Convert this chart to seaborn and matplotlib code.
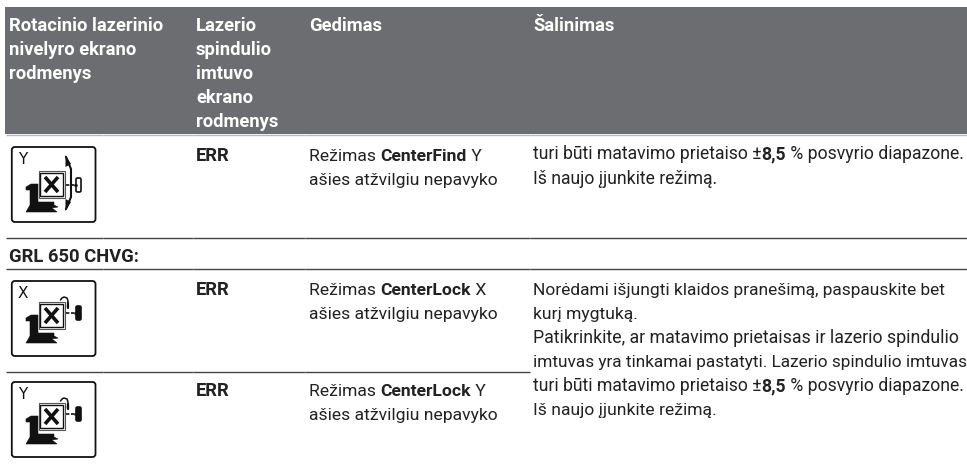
import matplotlib
matplotlib.use("Agg")
import matplotlib.pyplot as plt
from matplotlib.patches import FancyBboxPatch, Rectangle, Polygon
import seaborn as sns

sns.set_theme(style="white")
FAM = ["Roboto", "DejaVu Sans"]

W, H = 967, 466
HEADER_COLOR = "#6c6d70"
TEXT_COLOR = "#222222"

col_x = [9, 196, 309, 533]
col_edges = [5, 102.5, 192.5, 304.5, 529.5, 967]
header_labels = [
    ["Rotacinio lazerinio", "nivelyro ekrano", "rodmenys"],
    ["Lazerio", "spindulio", "imtuvo", "ekrano", "rodmenys"],
    ["Gedimas"],
    ["Šalinimas"],
]
group_label = "GRL 650 CHVG:"
code_label = "ERR"
row_tops = [147, 281, 382]
content_shift = [3, 0, 0]
fault_rows = [
    [[("Režimas ", False), ("CenterFind", True), (" Y", False)], [("ašies atžvilgiu nepavyko", False)]],
    [[("Režimas ", False), ("CenterLock", True), (" X", False)], [("ašies atžvilgiu nepavyko", False)]],
    [[("Režimas ", False), ("CenterLock", True), (" Y", False)], [("ašies atžvilgiu nepavyko", False)]],
]
fix_top = [
    [("turi būti matavimo prietaiso ±", False), ("8,5", True), (" % posvyrio diapazone.", False)],
    [("Iš naujo įjunkite režimą.", False)],
]
fix_bottom = [
    [("Norėdami išjungti klaidos pranešimą, paspauskite bet", False)],
    [("kurį mygtuką.", False)],
    [("Patikrinkite, ar matavimo prietaisas ir lazerio spindulio", False)],
    [("imtuvas yra tinkamai pastatyti. Lazerio spindulio imtuvas", False)],
    [("turi būti matavimo prietaiso ±", False), ("8,5", True), (" % posvyrio diapazone.", False)],
    [("Iš naujo įjunkite režimą.", False)],
]
full_rules = [238, 269]
partial_rules = [372]
icon_letters = ["Y", "X", "Y"]
icon_kind = ["find", "lock", "lock"]

FS = 12.6
HFS = 13.2
fix_bottom_sizes = [12.5, 12.6, 12.75, 12.4, 12.7, 12.6]
fig = plt.figure(figsize=(W / 100, H / 100), dpi=100)
ax = fig.add_axes([0, 0, 1, 1])
ax.set_xlim(0, W)
ax.set_ylim(H, 0)
ax.axis("off")
sns.despine(ax=ax, left=True, bottom=True)

ax.add_patch(Rectangle((5, 7), 962, 127, color=HEADER_COLOR, lw=0))


def rule(y, edges, color="#444444", lw=1.0):
    for a, b in zip(edges[:-1], edges[1:]):
        ax.plot([a + 0.5, b], [y, y], color=color, lw=lw, solid_capstyle="butt")


rule(134.5, col_edges, color="#b8b8ba", lw=1.0)
for y in full_rules:
    rule(y, col_edges)
for y in partial_rules:
    rule(y, col_edges[:-1])

r = fig.canvas.get_renderer()


def runs(x, y, parts, color=TEXT_COLOR, size=FS):
    for s, b in parts:
        t = ax.text(x, y, s.replace(" ", "\u00a0"), family=FAM, fontsize=size,
                    weight="bold" if b else "normal", color=color,
                    va="baseline", ha="left")
        x += t.get_window_extent(r).width


for cx, lines in zip(col_x, header_labels):
    for i, line in enumerate(lines):
        runs(cx, 31 + i * 24, [(line, True)], color="white", size=HFS)

runs(9, 262, [(group_label, True)], size=HFS)
for top, lines in zip(row_tops, fault_rows):
    runs(196, top + 14, [(code_label, True)], size=HFS)
    runs(309, top + 14, lines[0])
    runs(309, top + 38, lines[1])
for i, parts in enumerate(fix_top):
    runs(533, 159 + i * 25, parts, size=12.7)
for i, (parts, size) in enumerate(zip(fix_bottom, fix_bottom_sizes)):
    runs(533, 295 + i * 24, parts, size=size)

INK = "#111111"


def icon(top, letter, kind, shift):
    ax.add_patch(FancyBboxPatch((11.8, top), 83.7, 75, boxstyle="round,pad=0,rounding_size=3",
                                fc="white", ec=INK, lw=1.3))
    ax.text(18, top + 17, letter, family="DejaVu Sans", fontsize=11, color=INK)
    c = top + shift
    # laser body
    ax.add_patch(Polygon([(26, c + 37), (31, c + 34), (38, c + 34), (38, c + 52), (54, c + 52),
                          (54, c + 55), (58, c + 57), (52, c + 58), (57, c + 62), (26, c + 62),
                          (30, c + 55), (30, c + 40), (26, c + 40)],
                         fc=INK, ec=INK, lw=0.4))
    # display frames
    ax.add_patch(Rectangle((38.5, c + 21), 26, 27, fc="white", ec="#555555", lw=0.8))
    ax.add_patch(Rectangle((40, c + 22.5), 23, 23, fc="white", ec=INK, lw=1.0))
    ax.plot([45, 58], [c + 27, c + 42], color=INK, lw=2.6, solid_capstyle="butt")
    ax.plot([45, 58], [c + 42, c + 27], color=INK, lw=2.6, solid_capstyle="butt")
    ym = c + 32 + (3 if kind == "find" else 0)
    ax.plot([66, 75], [ym, ym], color=INK, lw=1.2, ls=(0, (2, 1)))
    ax.add_patch(FancyBboxPatch((76, ym - 7), 5, 14, boxstyle="round,pad=0,rounding_size=1.5",
                                fc=INK if kind == "lock" else "white", ec=INK, lw=1.2))
    ax.plot([75, 76], [ym, ym], color=INK, lw=2)
    if kind == "find":
        ax.plot([66, 71, 71, 66], [top + 10, top + 22, top + 50, top + 62], color=INK, lw=1.5)
        ax.add_patch(Polygon([(65.5, top + 8), (71, top + 17), (65.5, top + 20)], fc=INK, ec="none"))
        ax.add_patch(Polygon([(65.5, top + 64), (71, top + 55), (65.5, top + 52)], fc=INK, ec="none"))
    else:
        ax.plot([60.5, 62, 64, 67, 68, 67.5], [c + 19, c + 17, c + 16, c + 17, c + 20, c + 26],
                color=INK, lw=1.1)
        ax.plot([67.5, 67.5], [c + 22, c + 27], color=INK, lw=1.6)


for top, letter, kind, shift in zip(row_tops, icon_letters, icon_kind, content_shift):
    icon(top, letter, kind, shift)

fig.savefig("out.png", dpi=100, facecolor="white")
